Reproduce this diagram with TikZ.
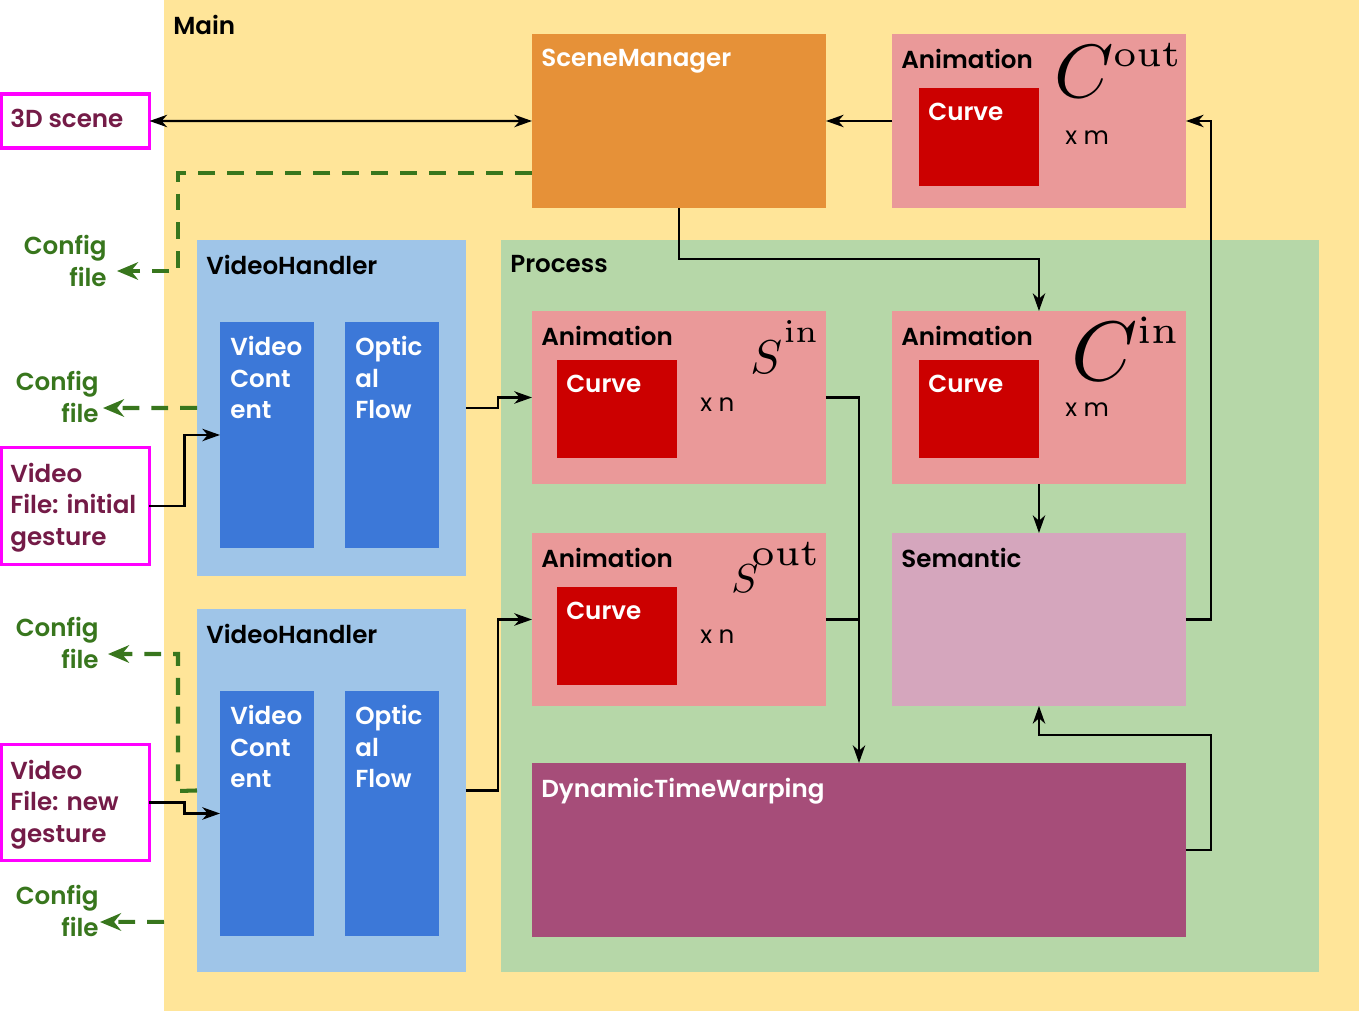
\RequirePackage{fix-cm}
\documentclass[tikz,border=0pt]{standalone}
\usepackage[no-math]{fontspec}
\setmainfont{Poppins}[BoldFont={Poppins SemiBold}]
\usetikzlibrary{arrows.meta,positioning}

\definecolor{mainbg}{HTML}{FFE599}
\definecolor{scenebg}{HTML}{E69138}
\definecolor{animbg}{HTML}{EA9999}
\definecolor{curvebg}{HTML}{CC0000}
\definecolor{processbg}{HTML}{B6D7A8}
\definecolor{handlerbg}{HTML}{9FC5E8}
\definecolor{videobg}{HTML}{3C78D8}
\definecolor{semanticbg}{HTML}{D5A6BD}
\definecolor{dtwbg}{HTML}{A64D79}
\definecolor{iobox}{HTML}{FF00FF}
\definecolor{iotext}{HTML}{741B47}
\definecolor{cfggreen}{HTML}{38761D}

% symbol fonts
\font\symCout=cmmi10 at 43pt
\font\supCout=cmr6 at 21.5pt
\font\symCin=cmmi10 at 48pt
\font\supCin=cmr6 at 22.3pt
\font\symSin=cmmi10 at 27pt
\font\supSin=cmr6 at 18.5pt
\font\symSout=cmmi10 at 23pt
\font\supSout=cmr6 at 21.5pt

\tikzset{
  box/.style={inner sep=0pt, outer sep=0pt, anchor=north west},
  iofile/.style={box, draw=iobox, line width=1.9pt},
  title/.style={anchor=north west, inner xsep=0.18cm, inner ysep=0.3cm, align=left,
    font=\bfseries\fontsize{14}{18}\selectfont},
  cfgtext/.style={anchor=north east, inner sep=0pt, align=right, text=cfggreen,
    font=\bfseries\fontsize{14}{18}\selectfont},
  count/.style={anchor=west, inner sep=0pt, font=\fontsize{14}{18}\selectfont},
  sym/.style={anchor=base west, inner sep=0pt},
  flowtip/.tip={Stealth[length=10pt,width=7pt,inset=3pt]},
  flow/.style={-flowtip, line width=1.4pt},
  cfgflow/.style={-{Stealth[length=12pt,width=10pt,inset=4pt]}, draw=cfggreen,
    line width=2.3pt, dash pattern=on 9.6pt off 6.8pt},
}

\begin{document}
\begin{tikzpicture}[x=0.02cm, y=-0.02cm]
  \useasboundingbox (0,0) rectangle (1359,1011);

  % main frame
  \node[box, fill=mainbg, minimum width=23.9cm, minimum height=20.22cm] (main) at (164,0) {};
  \node[title] (tmain) at (main.north west) {Main};

  % scene side
  \node[box, fill=scenebg, minimum width=5.88cm, minimum height=3.48cm] (scene) at (532,34) {};
  \node[title, text=white] (tscene) at (scene.north west) {SceneManager};
  \node[box, fill=animbg, minimum width=5.88cm, minimum height=3.48cm] (animout) at (892,34) {};
  \node[title] (tanimout) at (animout.north west) {Animation};
  \node[box, fill=curvebg, minimum width=2.4cm, minimum height=1.96cm] (curveout) at (919,88) {};
  \node[title, text=white] (tcurveout) at (curveout.north west) {Curve};
  \node[count] (nout) at (1065,138) {x m};
  \node[sym] (symcout) at (1054,97) {\symCout C\kern2.8pt\raisebox{17.6pt}{\supCout out}};

  % process
  \node[box, fill=processbg, minimum width=16.36cm, minimum height=14.64cm] (process) at (501,240) {};
  \node[title] (tprocess) at (process.north west) {Process};

  \node[box, fill=animbg, minimum width=5.88cm, minimum height=3.46cm] (sin) at (532,311) {};
  \node[title] (tsin) at (sin.north west) {Animation};
  \node[box, fill=curvebg, minimum width=2.4cm, minimum height=1.96cm] (curvesin) at (557,360) {};
  \node[title, text=white] (tcurvesin) at (curvesin.north west) {Curve};
  \node[count] (nsin) at (700,405) {x n};
  \node[sym] (symsin) at (750,373) {\symSin S\kern2.5pt\raisebox{17.6pt}{\supSin in}};

  \node[box, fill=animbg, minimum width=5.88cm, minimum height=3.46cm] (cin) at (892,311) {};
  \node[title] (tcin) at (cin.north west) {Animation};
  \node[box, fill=curvebg, minimum width=2.4cm, minimum height=1.96cm] (curvecin) at (919,360) {};
  \node[title, text=white] (tcurvecin) at (curvecin.north west) {Curve};
  \node[count] (ncin) at (1065,410) {x m};
  \node[sym] (symcin) at (1071,380) {\symCin C\kern3.2pt\raisebox{21pt}{\supCin in}};

  \node[box, fill=animbg, minimum width=5.88cm, minimum height=3.46cm] (sout) at (532,533) {};
  \node[title] (tsout) at (sout.north west) {Animation};
  \node[box, fill=curvebg, minimum width=2.4cm, minimum height=1.96cm] (curvesout) at (557,587) {};
  \node[title, text=white] (tcurvesout) at (curvesout.north west) {Curve};
  \node[count] (nsout) at (700,637) {x n};
  \node[sym] (symsout) at (731,592) {\symSout S\kern-2.5pt\raisebox{15.3pt}{\supSout out}};

  \node[box, fill=semanticbg, minimum width=5.88cm, minimum height=3.46cm] (sem) at (892,533) {};
  \node[title] (tsem) at (sem.north west) {Semantic};
  \node[box, fill=dtwbg, minimum width=13.08cm, minimum height=3.48cm] (dtw) at (532,763) {};
  \node[title, text=white] (tdtw) at (dtw.north west) {DynamicTimeWarping};

  % video handlers
  \node[box, fill=handlerbg, minimum width=5.38cm, minimum height=6.72cm] (vh1) at (197,240) {};
  \node[title] (tvh1) at (vh1.north west) {VideoHandler};
  \node[box, fill=videobg, minimum width=1.88cm, minimum height=4.52cm] (vc1) at (220,322) {};
  \node[title, text=white, inner xsep=0.2cm, inner ysep=0.28cm] (tvc1) at (vc1.north west) {Video\\Cont\\ent};
  \node[box, fill=videobg, minimum width=1.88cm, minimum height=4.52cm] (of1) at (345,322) {};
  \node[title, text=white, inner xsep=0.2cm, inner ysep=0.28cm] (tof1) at (of1.north west) {Optic\\al\\Flow};

  \node[box, fill=handlerbg, minimum width=5.38cm, minimum height=7.26cm] (vh2) at (197,609) {};
  \node[title] (tvh2) at (vh2.north west) {VideoHandler};
  \node[box, fill=videobg, minimum width=1.88cm, minimum height=4.9cm] (vc2) at (220,691) {};
  \node[title, text=white, inner xsep=0.2cm, inner ysep=0.28cm] (tvc2) at (vc2.north west) {Video\\Cont\\ent};
  \node[box, fill=videobg, minimum width=1.88cm, minimum height=4.9cm] (of2) at (345,691) {};
  \node[title, text=white, inner xsep=0.2cm, inner ysep=0.28cm] (tof2) at (of2.north west) {Optic\\al\\Flow};

  % outside inputs
  \node[iofile, minimum width=2.96cm, minimum height=1.08cm] (scene3d) at (1.5,94) {};
  \node[title, text=iotext, inner xsep=0.17cm] (tscene3d) at (scene3d.north west) {3D scene};
  \node[iofile, minimum width=2.96cm, minimum height=2.34cm] (vf1) at (1.5,447.5) {};
  \node[title, text=iotext, inner xsep=0.17cm] (tvf1) at (vf1.north west) {Video\\File: initial\\gesture};
  \node[iofile, minimum width=2.96cm, minimum height=2.32cm] (vf2) at (1.5,744.5) {};
  \node[title, text=iotext, inner xsep=0.17cm] (tvf2) at (vf2.north west) {Video\\File: new\\gesture};

  % config files
  \node[cfgtext] (cfgA) at (107,235) {Config\\file};
  \node[cfgtext] (cfgB) at (99,371) {Config\\file};
  \node[cfgtext] (cfgC) at (99,617) {Config\\file};
  \node[cfgtext] (cfgD) at (99,885) {Config\\file};
  \coordinate (tipA) at (117,271);
  \coordinate (tipB) at (103,408);
  \coordinate (tipC) at (108,654);
  \coordinate (tipD) at (100,922);
  \coordinate (dtwin) at (859,763);

  % connectors
  \draw[flow, flowtip-flowtip] (scene3d.east) -- (scene.west);
  \draw[flow] (animout.west) -- (scene.east);
  \draw[flow] (scene.south) -- ++(0,51) -| (cin.north);
  \draw[flow] (cin.south) -- (sem.north);
  \draw[flow] (sin.east) -| (dtwin);
  \draw[line width=1.4pt] (sout.east) -- (sout.east -| dtwin);
  \draw[flow] (sem.east) -- ++(25,0) |- (animout.east);
  \draw[flow] (dtw.east) -- ++(25,0) |- ([yshift=-0.58cm]sem.south) -- (sem.south);
  \draw[flow] (vh1.east) -- ++(32,0) |- (sin.west);
  \draw[flow] (vh2.east) -- ++(32,0) |- (sout.west);
  \draw[flow] (vf1.east) -- ++(35,0) |- (vc1.west);
  \draw[flow] (vf2.east) -- ++(35,0) |- (vc2.west);

  \draw[cfgflow] ([yshift=0.7cm]scene.south west) -| (178,271) -- (tipA);
  \draw[cfgflow] (vh1.west) -- (tipB);
  \draw[cfgflow] (vh2.west) -- (178,791) |- (tipC);
  \draw[cfgflow] ([yshift=1.78cm]main.south west) -- (tipD);
\end{tikzpicture}
\end{document}
